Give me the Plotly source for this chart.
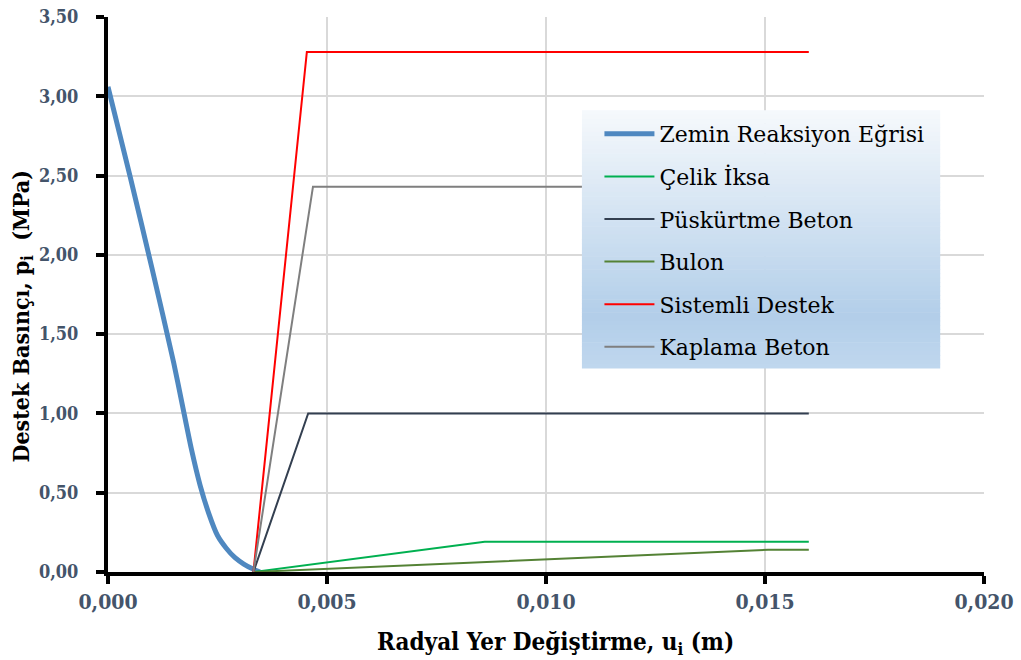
import plotly.graph_objects as go

# Ground reaction curve (zemin reaksiyon eğrisi)
zemin_u = [0, 0.0005, 0.0010, 0.0015, 0.0017, 0.0019, 0.0021, 0.0023, 0.0025,
           0.0027, 0.0029, 0.0031, 0.0033, 0.00347]
zemin_p = [3.06, 2.50, 1.92, 1.32, 1.05, 0.78, 0.55, 0.37, 0.23,
           0.15, 0.09, 0.05, 0.02, 0.00]

# Support reaction lines: start, yield point, end
celik_u = [0.00332, 0.0086, 0.016]
celik_p = [0.0, 0.19, 0.19]
puskurtme_u = [0.00332, 0.00457, 0.016]
puskurtme_p = [0.0, 1.00, 1.00]
bulon_u = [0.00332, 0.01507, 0.016]
bulon_p = [0.0, 0.14, 0.14]
sistemli_u = [0.00332, 0.00454, 0.016]
sistemli_p = [0.0, 3.28, 3.28]
kaplama_u = [0.00332, 0.00468, 0.016]
kaplama_p = [0.0, 2.43, 2.43]

x_ticks = [0, 0.005, 0.010, 0.015, 0.020]
y_ticks = [0, 0.5, 1.0, 1.5, 2.0, 2.5, 3.0, 3.5]

SERIF_C = "DejaVu Serif Condensed, DejaVu Serif"
SERIF = "DejaVu Serif"
TICK_COLOR = "#44546a"

series = [
    ("Zemin Reaksiyon Eğrisi", zemin_u, zemin_p, "#4f88c0", 5, "spline"),
    ("Çelik İksa", celik_u, celik_p, "#00b050", 2, "linear"),
    ("Püskürtme Beton", puskurtme_u, puskurtme_p, "#333f50", 2, "linear"),
    ("Bulon", bulon_u, bulon_p, "#548235", 2, "linear"),
    ("Sistemli Destek", sistemli_u, sistemli_p, "#ff0000", 2, "linear"),
    ("Kaplama Beton", kaplama_u, kaplama_p, "#7f7f7f", 2, "linear"),
]

fig = go.Figure()
for i, (name, xs, ys, color, width, shape) in enumerate(series):
    line = dict(color=color, width=width, shape=shape)
    if shape == "spline":
        line["smoothing"] = 0.6
    fig.add_trace(go.Scatter(
        x=xs, y=ys, mode="lines", name=name, line=line,
        legendgroup=f"g{i}", hoverinfo="skip",
    ))

# Legend box with a vertical white-to-blue gradient, built from thin bands
lx0, lx1 = 0.541, 0.950
ly0, ly1 = 0.3676, 0.832
stops = [(0.0, (246, 249, 252)), (0.8, (178, 206, 233)), (1.0, (192, 215, 238))]


def grad_color(t):
    for (t0, c0), (t1, c1) in zip(stops[:-1], stops[1:]):
        if t <= t1:
            f = (t - t0) / (t1 - t0) if t1 > t0 else 0
            return "rgb(%d,%d,%d)" % tuple(round(a + (b - a) * f) for a, b in zip(c0, c1))
    return "rgb(%d,%d,%d)" % stops[-1][1]


n_bands = 60
shapes = []
for k in range(n_bands):
    t = (k + 0.5) / n_bands
    top = ly1 - (ly1 - ly0) * k / n_bands
    bot = ly1 - (ly1 - ly0) * (k + 1) / n_bands
    shapes.append(dict(
        type="rect", xref="paper", yref="paper",
        x0=lx0, x1=lx1, y0=bot - 0.001, y1=top,
        fillcolor=grad_color(t), line=dict(width=0), layer="above",
    ))

# Axis titles placed as annotations relative to the plot area
title_font = dict(family=SERIF_C, size=23, color="black", weight="bold")
annotations = [
    dict(text="Radyal Yer Değiştirme, u<sub>i</sub> (m)",
         xref="paper", yref="paper", x=0.5, y=0, xshift=9, yshift=-71,
         xanchor="center", yanchor="middle", showarrow=False,
         font=dict(family=SERIF_C, size=24, color="black", weight="bold")),
    dict(text="Destek Basınçı, p<sub>i</sub> \u00a0(MPa)",
         xref="paper", yref="paper", x=0, y=0.5, xshift=-86, yshift=-22,
         xanchor="center", yanchor="middle", textangle=-90, showarrow=False,
         font=title_font),
]

fig.update_layout(
    width=1021, height=660,
    margin=dict(l=108, r=37, t=17, b=88),
    paper_bgcolor="white", plot_bgcolor="white",
    separators=",.",
    font=dict(family=SERIF),
    showlegend=True,
    shapes=shapes,
    annotations=annotations,
    legend=dict(
        x=lx0 + 0.020, y=ly1 - 0.005, xanchor="left", yanchor="top",
        bgcolor="rgba(0,0,0,0)", borderwidth=0,
        font=dict(family=SERIF, size=22, color="black"),
        tracegroupgap=11, itemwidth=50,
    ),
    xaxis=dict(
        range=[0, 0.020], tickvals=x_ticks, tickformat=".3f",
        showline=True, linecolor="black", linewidth=4,
        ticks="outside", ticklen=8, tickwidth=4, tickcolor="black",
        showgrid=True, gridcolor="#d9d9d9", gridwidth=1.5,
        zeroline=False,
        tickfont=dict(family=SERIF_C, size=21, color=TICK_COLOR, weight="bold"),
        automargin=False,
    ),
    yaxis=dict(
        range=[0, 3.5], tickvals=y_ticks, tickformat=".2f",
        showline=True, linecolor="black", linewidth=4,
        ticks="outside", ticklen=8, tickwidth=4, tickcolor="black",
        ticklabelstandoff=14,
        showgrid=True, gridcolor="#d9d9d9", gridwidth=1.5,
        zeroline=False,
        tickfont=dict(family=SERIF_C, size=18, color=TICK_COLOR, weight="bold"),
        automargin=False,
    ),
)

fig.write_html("out.html")
